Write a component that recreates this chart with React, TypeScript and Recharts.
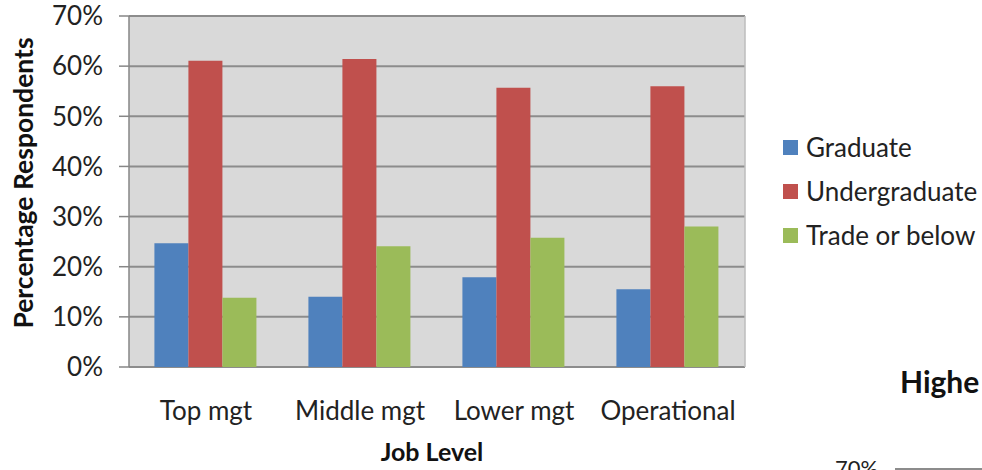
import React from "react";
import {
  Bar,
  BarChart,
  CartesianGrid,
  Label,
  ReferenceLine,
  XAxis,
  YAxis,
} from "recharts";

const jobLevels = ["Top mgt", "Middle mgt", "Lower mgt", "Operational"];
const graduate = [0.247, 0.14, 0.179, 0.155];
const undergraduate = [0.611, 0.614, 0.557, 0.56];
const tradeOrBelow = [0.138, 0.241, 0.258, 0.28];
const yTicks = [0, 0.1, 0.2, 0.3, 0.4, 0.5, 0.6, 0.7];
const boundaryTicks = [0, 1, 2, 3, 4];

const BLUE = "#4f81bd";
const RED = "#c0504d";
const GREEN = "#9bbb59";
const GRID = "#8c8c8c";
const FONT = "Lato, 'Open Sans', sans-serif";

const series = [
  { key: "graduate", name: "Graduate", color: BLUE },
  { key: "undergraduate", name: "Undergraduate", color: RED },
  { key: "trade", name: "Trade or below", color: GREEN },
];

const data = jobLevels.map((level, i) => ({
  level,
  pos: i + 0.5,
  graduate: graduate[i],
  undergraduate: undergraduate[i],
  trade: tradeOrBelow[i],
}));

function LegendBox() {
  return (
    <div
      style={{
        position: "absolute",
        left: 783,
        top: 125,
        fontFamily: FONT,
        fontSize: 26,
        color: "#222",
      }}
    >
      {series.map((s) => (
        <div key={s.key} style={{ display: "flex", alignItems: "center", height: 44 }}>
          <span style={{ width: 15, height: 15, background: s.color, marginRight: 8 }} />
          <span style={{ whiteSpace: "nowrap" }}>{s.name}</span>
        </div>
      ))}
    </div>
  );
}

export default function App() {
  return (
    <div style={{ position: "absolute", left: 0, top: 0, width: 982, height: 470, background: "#fff", overflow: "hidden" }}>
      <BarChart
        width={982}
        height={470}
        data={data}
        margin={{ top: 16, right: 237, left: 5, bottom: 63 }}
        barCategoryGap="16.5%"
        barGap={0}
      >
        <CartesianGrid
          vertical={false}
          horizontal
          stroke={GRID}
          strokeWidth={2}
          fill="#d9d9d9"
          fillOpacity={1}
        />
        <XAxis
          dataKey="level"
          xAxisId="cat"
          tickLine={false}
          axisLine={false}
          tickSize={0}
          tickMargin={35}
          height={40}
          interval={0}
          tick={{ fontFamily: FONT, fontSize: 26, fill: "#222" }}
        >
          <Label
            content={({ viewBox }: any) => (
              <text
                x={viewBox.x + viewBox.width / 2 - 5}
                y={461}
                textAnchor="middle"
                fontFamily={FONT}
                fontWeight="bold"
                fontSize={25}
                fill="#111"
              >
                Job Level
              </text>
            )}
          />
        </XAxis>
        <XAxis
          xAxisId="edge"
          type="number"
          dataKey="pos"
          domain={[0, 4]}
          ticks={boundaryTicks}
          tick={false}
          tickSize={9}
          height={0}
          axisLine={{ stroke: "#868686", strokeWidth: 1.5 }}
          tickLine={{ stroke: "#868686", strokeWidth: 1.5 }}
        />
        <YAxis
          domain={[0, 0.7]}
          ticks={yTicks}
          width={124}
          tickSize={10}
          tickMargin={16}
          interval={0}
          tickFormatter={(v: number) => `${Math.round(v * 100)}%`}
          tick={{ fontFamily: FONT, fontSize: 26, fill: "#222" }}
          axisLine={{ stroke: "#868686", strokeWidth: 1.5 }}
          tickLine={{ stroke: "#868686", strokeWidth: 1.5 }}
        >
          <Label
            content={({ viewBox }: any) => (
              <text
                x={viewBox.x + 18}
                y={183}
                transform={`rotate(-90 ${viewBox.x + 18} 183)`}
                textAnchor="middle"
                dominantBaseline="central"
                fontFamily={FONT}
                fontWeight="bold"
                fontSize={26.5}
                fill="#111"
              >
                Percentage Respondents
              </text>
            )}
          />
        </YAxis>
        <ReferenceLine xAxisId="edge" x={4} stroke="#bdbdbd" strokeWidth={1.5} />
        {series.map((s) => (
          <Bar
            key={s.key}
            xAxisId="cat"
            dataKey={s.key}
            name={s.name}
            fill={s.color}
            isAnimationActive={false}
          />
        ))}
      </BarChart>
      <LegendBox />
      <div
        style={{
          position: "absolute",
          left: 900,
          top: 363,
          fontFamily: FONT,
          fontWeight: "bold",
          fontSize: 30,
          color: "#111",
          whiteSpace: "nowrap",
        }}
      >
        Highe
      </div>
      <div
        style={{
          position: "absolute",
          left: 835,
          top: 454,
          fontFamily: FONT,
          fontSize: 22,
          color: "#222",
        }}
      >
        70%
      </div>
      <div style={{ position: "absolute", left: 895, top: 468, width: 87, height: 2, background: "#8c8c8c" }} />
    </div>
  );
}
